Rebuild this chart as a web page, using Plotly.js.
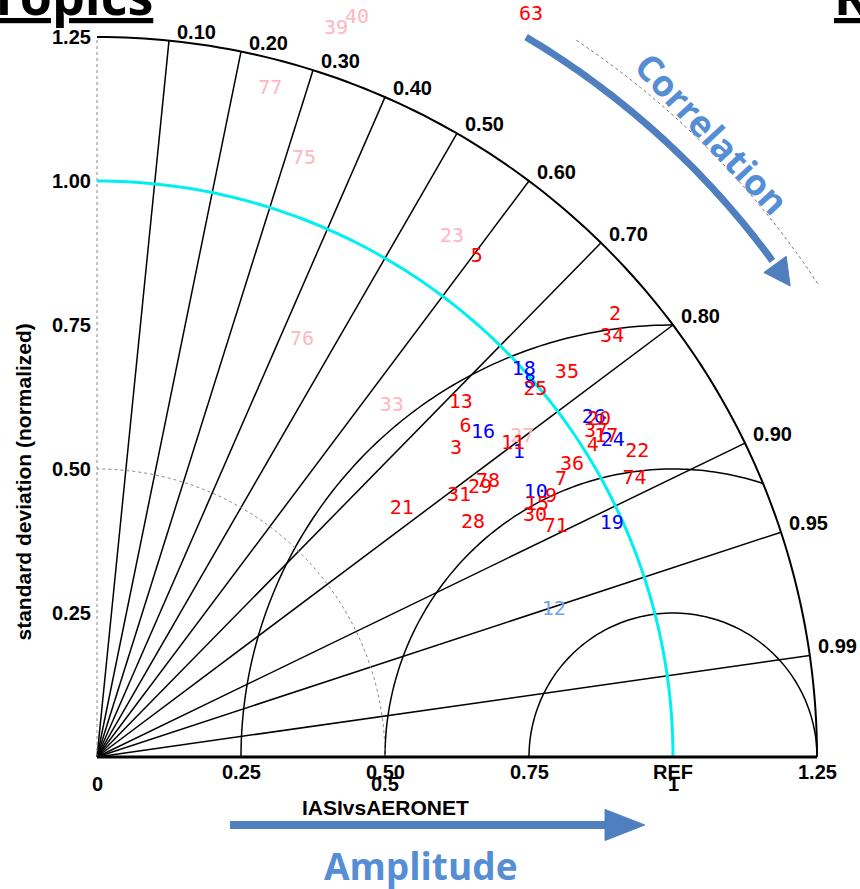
<!DOCTYPE html>
<html><head><meta charset="utf-8">
<script src="https://cdn.plot.ly/plotly-3.0.1.min.js"></script>
<style>html,body{margin:0;padding:0;background:#fff}</style>
</head><body><div id="chart" style="width:860px;height:889px"></div>
<script>
// ---- data: normalized standard deviation and correlation per site ----
const redLabels = ['63','5','2','34','35','25','13','6','3','11','20','37','4','17','22','36','7','74','9','15','30','71','78','29','31','21','28'];
const redStd    = [1.492,1.090,1.182,1.154,1.054,0.992,0.881,0.859,0.821,0.904,1.050,1.034,1.016,1.044,1.077,0.968,0.938,1.051,0.908,0.880,0.868,0.891,0.830,0.813,0.775,0.682,0.769];
const redCorr   = [0.505,0.605,0.761,0.775,0.774,0.767,0.717,0.745,0.759,0.799,0.830,0.838,0.847,0.847,0.871,0.852,0.859,0.888,0.868,0.868,0.876,0.894,0.818,0.818,0.811,0.776,0.849];

const blueLabels = ['18','8','16','1','26','24','10','19'];
const blueStd    = [1.000,0.993,0.875,0.903,1.044,1.050,0.889,0.981];
const blueCorr   = [0.741,0.757,0.766,0.811,0.826,0.853,0.857,0.911];

const pinkLabels = ['27','33','76','23','75','77','39','40'];
const pinkStd    = [0.924,0.796,0.807,1.093,1.099,1.198,1.330,1.360];
const pinkCorr   = [0.799,0.643,0.441,0.564,0.327,0.251,0.312,0.332];

const lightLabels = ['12'];
const lightStd    = [0.833];
const lightCorr   = [0.952];

const stdTicks   = [0.25, 0.5, 0.75, 1.0, 1.25];
const stdTickTxt = ['0.25','0.50','0.75','1.00','1.25'];
const xTickVals  = [0.25, 0.5, 0.75, 1.0, 1.25];
const xTickTxt   = ['0.25','0.50','0.75','REF','1.25'];
const xTick2Vals = [0, 0.5, 1];
const xTick2Txt  = ['0','0.5','1'];
const corrTicks  = [0.1,0.2,0.3,0.4,0.5,0.6,0.7,0.8,0.9,0.95,0.99];
const corrTickTxt= ['0.10','0.20','0.30','0.40','0.50','0.60','0.70','0.80','0.90','0.95','0.99'];
const rmsRadii   = [0.25, 0.5, 0.75];
const maxStd = 1.25;

// ---- helpers ----
const D2R = Math.PI/180;
function toXY(s, c){ return [s*c, s*Math.sqrt(Math.max(0,1-c*c))]; }
function arcPath(cx, cy, r, a0, a1, n){
  n = n || 120; let p = '';
  for(let i=0;i<=n;i++){
    const a = (a0 + (a1-a0)*i/n)*D2R;
    const x = cx + r*Math.cos(a), y = cy + r*Math.sin(a);
    p += (i===0?'M ':' L ') + x.toFixed(5)+','+y.toFixed(5);
  }
  return p;
}
function textTrace(labels, std, corr, color){
  const x=[], y=[];
  for(let i=0;i<labels.length;i++){ const p=toXY(std[i],corr[i]); x.push(p[0]); y.push(p[1]); }
  return {x, y, text: labels, mode:'text', type:'scatter', cliponaxis:false, hoverinfo:'skip',
    textposition:'middle center', textfont:{family:'DejaVu Sans Mono', size:20, color}, showlegend:false};
}

// ---- shapes (diagram frame) ----
const shapes = [];
const blk = {color:'#000', width:1.5};
shapes.push({type:'path', path: arcPath(0,0,maxStd,0,90), line:{color:'#000',width:2}, layer:'below'});
corrTicks.forEach(c => {
  const p = toXY(maxStd, c);
  shapes.push({type:'line', x0:0, y0:0, x1:p[0], y1:p[1], line:blk, layer:'below'});
});
rmsRadii.forEach(r => {
  const xi = (maxStd*maxStd - r*r + 1)/2;
  let a0 = 0;
  if (xi < 1 + r) a0 = Math.atan2(Math.sqrt(Math.max(0, r*r-(xi-1)*(xi-1))), xi-1)/D2R;
  shapes.push({type:'path', path: arcPath(1,0,r,a0,180), line:blk, layer:'below'});
});
shapes.push({type:'path', path: arcPath(0,0,0.5,0,90), line:{color:'#888',width:1,dash:'dot'}, layer:'below'});
shapes.push({type:'line', x0:0, y0:0, x1:0, y1:maxStd, line:{color:'#888',width:1,dash:'dot'}, layer:'below'});
shapes.push({type:'path', path: arcPath(0,0,1,0,90), line:{color:'#00f0f0',width:3}, layer:'below'});
shapes.push({type:'line', x0:0, y0:0, x1:maxStd, y1:0, line:{color:'#000',width:3}, layer:'below'});

// ---- decorative arrows ----
const arrowCol = '#4f7fbf';
shapes.push({type:'path', path: arcPath(0,0,1.497,33.3,56.3,60), line:{color:'#777',width:1,dash:'dot'}, layer:'below'});
const Rarr = 1.455, aStart = 59.2, aTip = 34.2, aBase = 36.0;
shapes.push({type:'path', path: arcPath(0,0,Rarr,aStart,aBase+0.3,60), line:{color:arrowCol,width:7}, layer:'below'});
(function(){
  const hw = 0.024;
  const b = aBase*D2R, t = aTip*D2R;
  const p1 = [(Rarr+hw)*Math.cos(b),(Rarr+hw)*Math.sin(b)];
  const p2 = [(Rarr-hw)*Math.cos(b),(Rarr-hw)*Math.sin(b)];
  const pt = [Rarr*Math.cos(t), Rarr*Math.sin(t)];
  shapes.push({type:'path', path:`M ${p1[0]},${p1[1]} L ${pt[0]},${pt[1]} L ${p2[0]},${p2[1]} Z`,
    fillcolor:arrowCol, line:{color:arrowCol,width:1}, layer:'below'});
})();
// amplitude arrow
const ay = -0.118;
shapes.push({type:'line', x0:0.231, y0:ay, x1:0.89, y1:ay, line:{color:arrowCol,width:8}, layer:'below'});
shapes.push({type:'path', path:`M 0.882,${ay+0.027} L 0.951,${ay} L 0.882,${ay-0.027} Z`,
  fillcolor:arrowCol, line:{color:arrowCol,width:1}, layer:'below'});

// ---- annotations (axis labels) ----
const ann = [];
const tickFont = {family:'Liberation Sans', size:20, color:'#000'};
stdTicks.forEach((v,i) => ann.push({x:0, y:v, text:'<b>'+stdTickTxt[i]+'</b>', showarrow:false, xanchor:'right', yanchor:'middle', xshift:-4, font:tickFont}));
xTickVals.forEach((v,i) => ann.push({x:v, y:0, text:'<b>'+xTickTxt[i]+'</b>', showarrow:false, xanchor:'center', yanchor:'top', yshift:-2, font:tickFont}));
xTick2Vals.forEach((v,i) => ann.push({x:v, y:0, text:'<b>'+xTick2Txt[i]+'</b>', showarrow:false, xanchor:'center', yanchor:'top', yshift:-14, font:tickFont}));
corrTicks.forEach((c,i) => { const p = toXY(maxStd,c);
  ann.push({x:p[0], y:p[1], text:'<b>'+corrTickTxt[i]+'</b>', showarrow:false, xanchor:'left', yanchor:'middle', xshift:6, yshift:9, font:tickFont}); });
ann.push({x:-0.128, y:0.477, text:'<b>standard deviation (normalized)</b>', textangle:-90, showarrow:false, font:{family:'Liberation Sans', size:21, color:'#000'}});
ann.push({x:0.5, y:-0.0885, text:'<b>IASIvsAERONET</b>', showarrow:false, font:{family:'Liberation Sans', size:21, color:'#000'}});
ann.push({x:0.5625, y:-0.189, text:'<b>Amplitude</b>', showarrow:false, font:{family:'Open Sans', size:37, color:'#558ed5'}});
ann.push({x:1.068, y:1.083, text:'<b>Correlation</b>', textangle:47, showarrow:false, font:{family:'Open Sans', size:36, color:'#558ed5'}});
ann.push({x:0.1007, y:1.258, text:'<b><u>Tropics</u></b>', showarrow:false, xanchor:'right', yanchor:'bottom', font:{family:'Open Sans', size:52, color:'#000'}});
ann.push({x:1.276, y:1.258, text:'<b><u>Re</u></b>', showarrow:false, xanchor:'left', yanchor:'bottom', font:{family:'Open Sans', size:52, color:'#000'}});

const traces = [
  textTrace(pinkLabels, pinkStd, pinkCorr, '#ffb6c1'),
  textTrace(lightLabels, lightStd, lightCorr, '#6fa3f7'),
  textTrace(blueLabels, blueStd, blueCorr, '#0000ff'),
  textTrace(redLabels, redStd, redCorr, '#ff0000')
];

const layout = {
  width:860, height:889, margin:{l:0,r:0,t:0,b:0},
  paper_bgcolor:'#fff', plot_bgcolor:'#fff',
  xaxis:{range:[-97/576, 763/576], visible:false, fixedrange:true},
  yaxis:{range:[-132/576, 757/576], visible:false, fixedrange:true},
  shapes, annotations: ann, showlegend:false
};
Plotly.newPlot('chart', traces, layout, {staticPlot:true, displayModeBar:false});
</script></body></html>
